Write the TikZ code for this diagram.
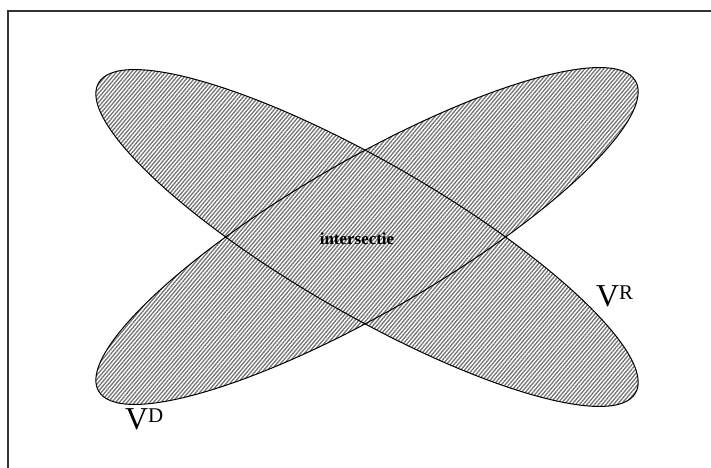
\documentclass[tikz,border=0pt]{standalone}
\usepackage{fontspec}
\setmainfont{Liberation Serif}
\usetikzlibrary{patterns.meta}
\tikzset{
  blob/.style={pattern={Lines[angle=50,distance=2.9bp,line width=1.3bp]},pattern color=black!55,nonzero rule},
  rim/.style={draw=black,line width=1bp},
  frameline/.style={draw=black!80,line width=1.3bp},
  biglabel/.style={anchor=base west,inner sep=0pt,font=\fontsize{32}{32}\selectfont},
}
\begin{document}
\begin{tikzpicture}[x=1bp,y=-1bp]
\useasboundingbox (0,0) rectangle (711,468);
\coordinate (c1) at (367,238);
\coordinate (c2) at (367,236);
\coordinate (tl) at (8,11);
\coordinate (tr) at (711,11);
\coordinate (bl) at (8,468);
% hatched fill of the union (one path, nonzero rule)
\fill[blob]
  plot[domain=0:360,samples=240,variable=\t]
    ({367+310*cos(\t)*cos(30)+76*sin(\t)*sin(30)},{238+310*cos(\t)*sin(30)-76*sin(\t)*cos(30)}) -- cycle
  plot[domain=0:360,samples=240,variable=\t]
    ({367+310*cos(\t)*cos(30)-76*sin(\t)*sin(30)},{236-310*cos(\t)*sin(30)-76*sin(\t)*cos(30)}) -- cycle;
% outlines
\draw[rim,rotate around={-30:(c1)}] (c1) ellipse [x radius=310bp, y radius=76bp];
\draw[rim,rotate around={30:(c2)}] (c2) ellipse [x radius=310bp, y radius=76bp];
% frame (top and left only)
\draw[frameline] (bl) -- (tl) -- (tr);
% labels
\node[anchor=base,inner sep=0pt,font=\fontsize{17}{17}\selectfont\bfseries] (isect) at (357,245) {intersectie};
\node[biglabel] (vd) at (125,429) {V\raisebox{7bp}{\fontsize{21}{21}\selectfont D}};
\node[biglabel] (vr) at (596,307) {V\raisebox{7bp}{\fontsize{21}{21}\selectfont R}};
\end{tikzpicture}
\end{document}
